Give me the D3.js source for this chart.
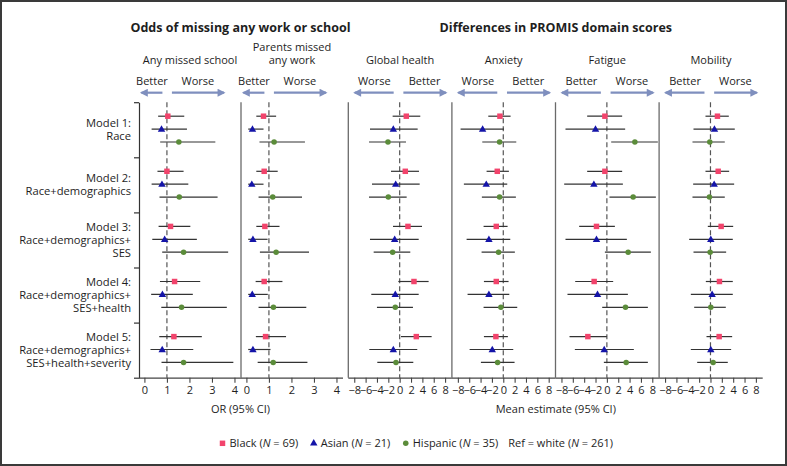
<!DOCTYPE html>
<html><head><meta charset="utf-8">
<script src="https://cdn.jsdelivr.net/npm/d3@7"></script>
<style>
body{margin:0;background:#fff}
svg{display:block}
text{font-family:"Open Sans",sans-serif;fill:#1e1e1e}
</style>
</head><body>
<svg id="c" width="787" height="466"></svg>
<script>
// ---------------- data ----------------
const models = [
  ["Model 1:", "Race"],
  ["Model 2:", "Race+demographics"],
  ["Model 3:", "Race+demographics+", "SES"],
  ["Model 4:", "Race+demographics+", "SES+health"],
  ["Model 5:", "Race+demographics+", "SES+health+severity"]
];
const groups = ["Black", "Asian", "Hispanic"];
const groupN = [69, 21, 35];
const refLabel = "Ref = white";
const refN = 261;

// each row: model; inside: [estimate, lower, upper] for Black, Asian, Hispanic
const missedSchool = [
  [[1.04, 0.61, 1.77], [0.76, 0.32, 1.89], [1.53, 0.70, 3.15]],
  [[1.00, 0.58, 1.74], [0.78, 0.32, 1.95], [1.55, 0.67, 3.25]],
  [[1.16, 0.63, 2.04], [0.90, 0.35, 2.33], [1.74, 0.79, 3.72]],
  [[1.34, 0.69, 2.48], [0.80, 0.30, 2.15], [1.65, 0.75, 3.66]],
  [[1.31, 0.66, 2.55], [0.79, 0.27, 2.17], [1.74, 0.76, 3.95]]
];
const parentsMissed = [
  [[0.76, 0.44, 1.32], [0.27, 0.08, 0.76], [1.23, 0.58, 2.60]],
  [[0.79, 0.44, 1.39], [0.24, 0.08, 0.76], [1.17, 0.54, 2.47]],
  [[0.82, 0.44, 1.47], [0.29, 0.08, 0.94], [1.32, 0.60, 2.78]],
  [[0.79, 0.41, 1.60], [0.26, 0.08, 0.95], [1.20, 0.54, 2.66]],
  [[0.85, 0.42, 1.76], [0.29, 0.08, 1.07], [1.19, 0.50, 2.71]]
];
const globalHealth = [
  [[1.17, -1.24, 3.63], [-1.12, -5.23, 3.17], [-2.06, -5.40, 1.11]],
  [[0.99, -1.53, 3.40], [-0.70, -4.88, 3.52], [-2.00, -5.40, 1.23]],
  [[1.46, -1.18, 3.93], [-0.88, -5.23, 3.35], [-1.24, -4.58, 1.87]],
  [[2.52, -0.24, 5.10], [-0.77, -5.00, 3.35], [-0.77, -4.00, 2.34]],
  [[2.93, 0.23, 5.63], [-1.12, -5.35, 3.10], [-0.65, -3.94, 2.40]]
];
const anxiety = [
  [[-0.59, -2.64, 1.29], [-3.64, -7.52, 0.12], [-0.65, -3.70, 2.29]],
  [[-1.06, -2.94, 0.99], [-3.00, -6.94, 0.70], [-0.65, -3.77, 2.22]],
  [[-1.23, -3.47, 0.76], [-2.53, -6.46, 1.23], [-0.83, -3.82, 2.04]],
  [[-1.23, -3.41, 0.93], [-2.53, -6.29, 1.06], [-0.42, -3.47, 2.46]],
  [[-1.30, -3.41, 0.81], [-1.94, -5.93, 1.76], [-1.00, -3.94, 1.99]]
];
const fatigue = [
  [[-0.35, -3.47, 2.69], [-2.00, -7.29, 3.22], [4.93, 0.76, 8.98]],
  [[-0.35, -3.47, 2.69], [-2.29, -7.52, 2.82], [4.63, 0.46, 8.63]],
  [[-1.83, -4.88, 1.41], [-1.83, -7.29, 3.52], [3.75, -0.35, 7.75]],
  [[-2.24, -5.58, 1.11], [-1.65, -6.94, 3.70], [3.28, -0.82, 7.22]],
  [[-3.35, -6.58, 0.00], [-0.47, -5.64, 4.75], [3.40, -0.53, 7.22]]
];
const mobility = [
  [[1.23, -0.88, 3.23], [0.70, -2.99, 4.28], [-0.12, -3.17, 2.52]],
  [[1.36, -0.88, 3.29], [0.65, -3.05, 4.17], [-0.18, -3.17, 2.52]],
  [[1.88, -0.47, 4.00], [0.06, -3.75, 3.93], [-0.06, -2.99, 2.76]],
  [[1.58, -0.82, 3.93], [0.29, -3.46, 3.93], [0.06, -2.87, 2.70]],
  [[1.53, -0.70, 3.82], [0.06, -3.46, 3.64], [0.47, -2.34, 3.05]]
];

const orTicks = [0, 1, 2, 3, 4];
const meanTicks = [-8, -6, -4, -2, 0, 2, 4, 6, 8];
const sectionTitles = ["Odds of missing any work or school", "Differences in PROMIS domain scores"];
const axisTitles = ["OR (95% CI)", "Mean estimate (95% CI)"];

const panels = [
  {name: ["Any missed school"], dirs: ["Better", "Worse"], data: missedSchool, kind: "or"},
  {name: ["Parents missed", "any work"], dirs: ["Better", "Worse"], data: parentsMissed, kind: "or"},
  {name: ["Global health"], dirs: ["Worse", "Better"], data: globalHealth, kind: "mean"},
  {name: ["Anxiety"], dirs: ["Worse", "Better"], data: anxiety, kind: "mean"},
  {name: ["Fatigue"], dirs: ["Better", "Worse"], data: fatigue, kind: "mean"},
  {name: ["Mobility"], dirs: ["Better", "Worse"], data: mobility, kind: "mean"}
];

// ---------------- layout ----------------
const svg = d3.select("#c");
const W = 787, H = 466;
const yTop = 102.2, yBottom = 377.7;
const orLeft = 139, orW = 102;
const mLeft = 348.3, mW = 103.6;
const orDomain = [-0.24, 4.29];
const mDomain = [-9.05, 9.2];

const colors = {Black: "#f2446c", Asian: "#1414a8", Hispanic: "#5b8c3a"};
const symbols = {Black: d3.symbolSquare, Asian: d3.symbolTriangle, Hispanic: d3.symbolCircle};
const symSize = {Black: 30, Asian: 24, Hispanic: 24};
const arrowCol = "#7f8fbe";
const lineCol = "#6a6a6a";

svg.append("rect").attr("x", 1).attr("y", 1).attr("width", W - 2).attr("height", H - 2)
  .attr("fill", "#fff").attr("stroke", "#3a3a3a").attr("stroke-width", 2);

svg.append("defs").append("marker")
  .attr("id", "ah").attr("viewBox", "0 0 10 10").attr("refX", 8).attr("refY", 5)
  .attr("markerWidth", 4).attr("markerHeight", 3.6).attr("markerUnits", "strokeWidth")
  .attr("orient", "auto")
  .append("path").attr("d", "M0,0L10,5L0,10Z").attr("fill", arrowCol);

const yBand = d3.scaleBand().domain(d3.range(models.length)).range([yTop, yBottom]).padding(0);
const yEdge = d3.scaleLinear().domain([0, models.length]).range([yTop, yBottom]);
const yRow = d3.scalePoint().domain(groups).range([14, 39.8]);

// left axis
const la = svg.append("g").attr("transform", `translate(${orLeft},0)`)
  .call(d3.axisLeft(yEdge).tickValues(d3.range(models.length + 1)).tickFormat("").tickSize(5).tickSizeOuter(0));
la.selectAll("path,line").attr("stroke", "#333").attr("stroke-width", 1.2);

// row labels
models.forEach((lines, i) => {
  const cy = yBand(i) + yBand.bandwidth() / 2;
  const n = lines.length, lh = 13;
  const t = svg.append("text").attr("text-anchor", "end").attr("font-size", 11.2);
  lines.forEach((l, j) => {
    t.append("tspan").attr("x", 131).attr("y", cy + (j - (n - 1) / 2) * lh + 4).text(l);
  });
});

// panels
panels.forEach((p, k) => {
  const x0 = p.kind === "or" ? orLeft + k * orW : mLeft + (k - 2) * mW;
  const w = p.kind === "or" ? orW : mW;
  const x = d3.scaleLinear().domain(p.kind === "or" ? orDomain : mDomain).range([x0, x0 + w]);
  const ref = p.kind === "or" ? 1 : 0;
  const g = svg.append("g");

  if (k !== 0) {
    g.append("line").attr("x1", x0).attr("x2", x0).attr("y1", yTop).attr("y2", yBottom)
      .attr("stroke", lineCol).attr("stroke-width", 1.3);
  }
  g.append("line").attr("x1", x(ref)).attr("x2", x(ref)).attr("y1", yTop).attr("y2", yBottom)
    .attr("stroke", "#555").attr("stroke-width", 1.2).attr("stroke-dasharray", "5,3");

  const ax = g.append("g").attr("transform", `translate(0,${yBottom})`)
    .call(d3.axisBottom(x).tickValues(p.kind === "or" ? orTicks : meanTicks)
      .tickFormat(d => d < 0 ? "\u2212" + Math.abs(d) : String(d))
      .tickSize(5).tickSizeOuter(0).tickPadding(4));
  ax.select(".domain").attr("stroke", "#444").attr("stroke-width", 1.2)
    .attr("d", `M${x0},0.5H${x0 + w}`);
  ax.selectAll(".tick line").attr("stroke", "#444").attr("stroke-width", 1.1);
  ax.selectAll(".tick text").attr("font-size", 11).attr("fill", "#1e1e1e")
    .attr("font-family", '"Open Sans",sans-serif');

  const nt = g.append("text").attr("text-anchor", "middle").attr("font-size", 11);
  p.name.forEach((l, j) => {
    nt.append("tspan").attr("x", x0 + w / 2).attr("y", 64 - (p.name.length - 1 - j) * 13.5).text(l);
  });

  const xr = x(ref);
  const arrows = p.kind === "or"
    ? [[xr - 4.5, x0 + 2.5], [xr + 5, xr + 57]]
    : [[xr - 6, x0 + 6.5], [xr + 3.7, x0 + w - 6]];
  arrows.forEach((a, j) => {
    g.append("line").attr("x1", a[0]).attr("x2", a[1]).attr("y1", 92.7).attr("y2", 92.7)
      .attr("stroke", arrowCol).attr("stroke-width", 2.2).attr("marker-end", "url(#ah)");
    g.append("text").attr("x", (a[0] + a[1]) / 2).attr("y", 85).attr("text-anchor", "middle")
      .attr("font-size", 11).text(p.dirs[j]);
  });

  p.data.forEach((row, i) => {
    row.forEach((v, gi) => {
      const grp = groups[gi];
      const y = yBand(i) + yRow(grp);
      g.append("line").attr("x1", x(v[1])).attr("x2", x(v[2])).attr("y1", y).attr("y2", y)
        .attr("stroke", "#333").attr("stroke-width", 1.2);
      g.append("path").attr("d", d3.symbol(symbols[grp], symSize[grp])())
        .attr("transform", `translate(${x(v[0])},${y + (grp === "Asian" ? 0.5 : 0)})`)
        .attr("fill", colors[grp]);
    });
  });
});

const orMid = orLeft + orW;
const mMid = mLeft + 2 * mW;
[orMid - 0.5, mMid + 0.3].forEach((cx, i) => {
  svg.append("text").attr("x", cx).attr("y", 31.5).attr("text-anchor", "middle")
    .attr("font-size", 12.5).attr("font-weight", "bold").text(sectionTitles[i]);
  svg.append("text").attr("x", cx).attr("y", 412.5).attr("text-anchor", "middle")
    .attr("font-size", 11).text(axisTitles[i]);
});

let lx = 219;
const ly = 443.3;
let lastEnd = lx;
groups.forEach((grp, i) => {
  svg.append("path").attr("d", d3.symbol(symbols[grp], symSize[grp])())
    .attr("transform", `translate(${lx + 3.5},${ly})`).attr("fill", colors[grp]);
  const t = svg.append("text").attr("x", lx + 10.5).attr("y", ly + 4).attr("font-size", 11);
  t.append("tspan").text(grp + " (");
  t.append("tspan").attr("font-style", "italic").text("N");
  t.append("tspan").text(" = " + groupN[i] + ")");
  lastEnd = lx + 10.5 + t.node().getComputedTextLength();
  lx = lastEnd + 12;
});
{
  const t = svg.append("text").attr("x", lastEnd + 10).attr("y", ly + 4).attr("font-size", 11);
  t.append("tspan").text(refLabel + " (");
  t.append("tspan").attr("font-style", "italic").text("N");
  t.append("tspan").text(" = " + refN + ")");
}
</script>
</body></html>
